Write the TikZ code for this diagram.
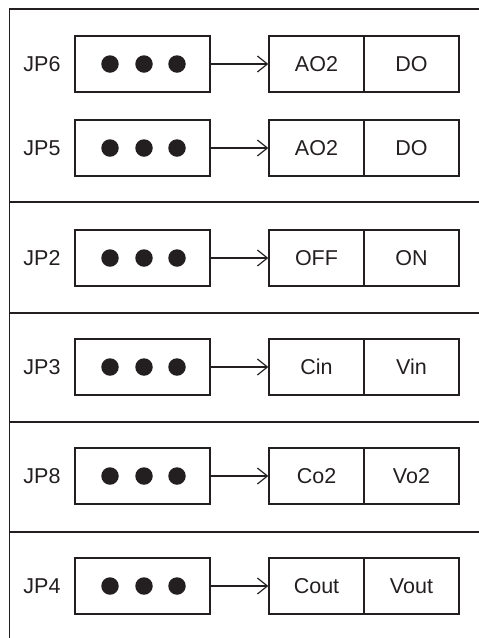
\documentclass[tikz,border=0pt]{standalone}
\usepackage{fontspec}
\setmainfont{Liberation Sans}
\usetikzlibrary{arrows.meta}
\definecolor{ink}{HTML}{231F20}
\begin{document}
\begin{tikzpicture}[x=1pt,y=-1pt,
  frame/.style={draw=ink,line width=1.5pt},
  pinbox/.style={draw=ink,line width=1.3pt,minimum width=135pt,minimum height=56pt,inner sep=0pt},
  halfbox/.style={draw=ink,line width=1.3pt,minimum width=95pt,minimum height=56pt,inner sep=0pt,font=\fontsize{21.5}{25}\selectfont,text=ink},
  lbl/.style={font=\fontsize{21.5}{25}\selectfont,text=ink,inner sep=0pt},
  dot/.style={circle,fill=ink,minimum size=17.5pt,inner sep=0pt},
  conn/.style={draw=ink,line width=1.2pt,-{Straight Barb[length=10pt,width=16pt,line width=1.2pt]}}]
\useasboundingbox (0,0) rectangle (479,638);
\draw[frame] (479,9) -- (9.5,9) -- (9.5,640);
\draw[frame] (9.5,202) -- (480,202);
\draw[frame] (9.5,313) -- (480,313);
\draw[frame] (9.5,422) -- (480,422);
\draw[frame] (9.5,532) -- (480,532);
\foreach \n/\y/\a/\b in {6/64/AO2/DO,5/148/AO2/DO,2/258/OFF/ON,3/367/Cin/Vin,8/476/Co2/Vo2,4/586/Cout/Vout}{
  \node[lbl] (l\n) at (42,\y) {JP\n};
  \node[pinbox] (p\n) at (142.5,\y) {};
  \node[dot] (d\n a) at (110,\y) {};
  \node[dot] (d\n b) at (144,\y) {};
  \node[dot] (d\n c) at (177,\y) {};
  \node[halfbox] (a\n) at (316.5,\y) {\a};
  \node[halfbox] (b\n) at (411.5,\y) {\b};
  \draw[conn] (p\n.east) -- (a\n.west);
}
\end{tikzpicture}
\end{document}
